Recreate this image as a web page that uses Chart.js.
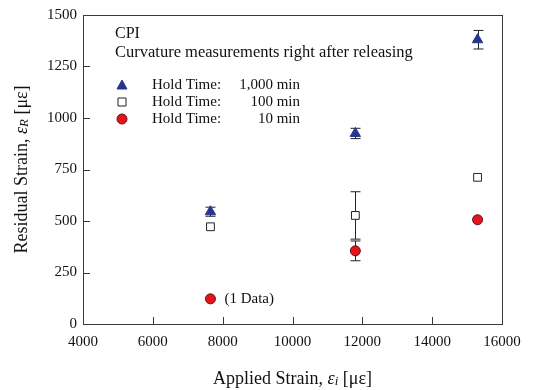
<!DOCTYPE html>
<html>
<head>
<meta charset="utf-8">
<script src="https://cdn.jsdelivr.net/npm/chart.js@4/dist/chart.umd.min.js"></script>
<style>
  html, body { margin: 0; padding: 0; background: #fff; }
  #wrap { width: 537px; height: 390px; }
</style>
</head>
<body>
<div id="wrap"><canvas id="strainChart" width="537" height="390"></canvas></div>
<script>
// --- Data ---
const xTicks = [4000, 6000, 8000, 10000, 12000, 14000, 16000];
const yTicks = [0, 250, 500, 750, 1000, 1250, 1500];

const hold1000X = [7650, 11800, 15300];
const hold1000Y = [545, 925, 1380];
const hold1000Err = [22, 25, 45];

const hold100X = [7650, 11800, 15300];
const hold100Y = [472, 527, 712];
const hold100Err = [0, 115, 0];

const hold10X = [7650, 11800, 15300];
const hold10Y = [122, 355, 506];
const hold10Err = [0, 48, 0];

const legendLabels = ['1,000 min', '100 min', '10 min'];

const SERIF = '"Liberation Serif", "DejaVu Serif", serif';
const FRAME = '#3a3a3a';

function toPoints(xs, ys, errs) {
    return xs.map((x, i) => ({ x: x, y: ys[i], err: errs[i] }));
}

// --- Frame, inward ticks, error bars, legend and axis titles ---
const figurePlugin = {
    id: 'figure',
    beforeDatasetsDraw(chart) {
        const ctx = chart.ctx;
        const xs = chart.scales.x, ys = chart.scales.y;
        ctx.save();
        // error bars under the markers
        ctx.strokeStyle = '#222';
        ctx.lineWidth = 1;
        chart.data.datasets.forEach(ds => {
            ds.data.forEach(p => {
                if (!p.err) return;
                const px = Math.round(xs.getPixelForValue(p.x)) + 0.5;
                const top = ys.getPixelForValue(p.y + p.err);
                const bot = ys.getPixelForValue(p.y - p.err);
                ctx.beginPath();
                ctx.moveTo(px, top); ctx.lineTo(px, bot);
                ctx.moveTo(px - 5, top); ctx.lineTo(px + 5, top);
                ctx.moveTo(px - 5, bot); ctx.lineTo(px + 5, bot);
                ctx.stroke();
            });
        });
        ctx.restore();
    },
    afterDraw(chart) {
        const ctx = chart.ctx;
        const a = chart.chartArea;
        const xs = chart.scales.x, ys = chart.scales.y;
        ctx.save();
        // frame
        ctx.strokeStyle = FRAME;
        ctx.lineWidth = 1;
        ctx.strokeRect(Math.round(a.left) + 0.5, Math.round(a.top) + 0.5,
            Math.round(a.right - a.left), Math.round(a.bottom - a.top));
        // inward ticks
        ctx.beginPath();
        xTicks.slice(1, -1).forEach(v => {
            const px = Math.round(xs.getPixelForValue(v)) + 0.5;
            ctx.moveTo(px, a.bottom); ctx.lineTo(px, a.bottom - 7);
        });
        yTicks.slice(1, -1).forEach(v => {
            const py = Math.round(ys.getPixelForValue(v)) + 0.5;
            ctx.moveTo(a.left, py); ctx.lineTo(a.left + 7, py);
        });
        ctx.stroke();

        // annotation text
        ctx.fillStyle = '#111';
        ctx.textBaseline = 'middle';
        ctx.textAlign = 'left';
        ctx.font = '16px ' + SERIF;
        ctx.fillText('CPI', 115, 34);
        ctx.font = '16.5px ' + SERIF;
        ctx.fillText('Curvature measurements right after releasing', 115, 53);

        // legend
        ctx.font = '15px ' + SERIF;
        const rows = [85, 102, 119];
        chart.data.datasets.forEach((ds, i) => {
            const cy = rows[i];
            drawMarker(ctx, ds, 122, cy);
            ctx.fillStyle = '#111';
            ctx.textAlign = 'left';
            ctx.fillText('Hold Time:', 152, cy);
            ctx.textAlign = 'right';
            ctx.fillText(legendLabels[i], 300, cy);
        });

        // note on single data point
        const nx = xs.getPixelForValue(hold10X[0]);
        const ny = ys.getPixelForValue(hold10Y[0]);
        ctx.textAlign = 'left';
        ctx.fillText('(1 Data)', nx + 14, ny);

        // x axis title
        drawRich(ctx, [
            { t: 'Applied Strain, ', f: '18px ' + SERIF },
            { t: 'ε', f: 'italic 18px ' + SERIF },
            { t: 'i', f: 'italic 13px ' + SERIF, dy: 3 },
            { t: ' [με]', f: '18px ' + SERIF }
        ], (a.left + a.right) / 2, 379);

        // y axis title (rotated)
        ctx.save();
        ctx.translate(22, (a.top + a.bottom) / 2);
        ctx.rotate(-Math.PI / 2);
        drawRich(ctx, [
            { t: 'Residual Strain, ', f: '18px ' + SERIF },
            { t: 'ε', f: 'italic 18px ' + SERIF },
            { t: 'R', f: 'italic 13px ' + SERIF, dy: 3 },
            { t: ' [με]', f: '18px ' + SERIF }
        ], 0, 0);
        ctx.restore();
        ctx.restore();
    }
};

function drawRich(ctx, parts, cx, cy) {
    let total = 0;
    parts.forEach(p => { ctx.font = p.f; total += ctx.measureText(p.t).width; });
    let x = cx - total / 2;
    ctx.textAlign = 'left';
    ctx.textBaseline = 'middle';
    ctx.fillStyle = '#111';
    parts.forEach(p => {
        ctx.font = p.f;
        ctx.fillText(p.t, x, cy + (p.dy || 0));
        x += ctx.measureText(p.t).width;
    });
}

function drawMarker(ctx, ds, x, y) {
    ctx.save();
    ctx.fillStyle = ds.backgroundColor;
    ctx.strokeStyle = ds.borderColor;
    ctx.lineWidth = ds.borderWidth;
    ctx.beginPath();
    if (ds.pointStyle === 'triangle') {
        ctx.moveTo(x, y - 5); ctx.lineTo(x + 5, y + 4); ctx.lineTo(x - 5, y + 4); ctx.closePath();
    } else if (ds.pointStyle === 'rect') {
        ctx.rect(x - 4, y - 4, 8, 8);
    } else {
        ctx.arc(x, y, 5, 0, Math.PI * 2);
    }
    ctx.fill();
    ctx.stroke();
    ctx.restore();
}

const ctx = document.getElementById('strainChart').getContext('2d');

const strainChart = new Chart(ctx, {
    type: 'scatter',
    data: {
        datasets: [
            {
                label: 'Hold Time: 1,000 min',
                data: toPoints(hold1000X, hold1000Y, hold1000Err),
                pointStyle: 'triangle',
                pointRadius: 6,
                backgroundColor: '#27358f',
                borderColor: '#27358f',
                borderWidth: 1
            },
            {
                label: 'Hold Time: 100 min',
                data: toPoints(hold100X, hold100Y, hold100Err),
                pointStyle: 'rect',
                pointRadius: 5.5,
                backgroundColor: '#ffffff',
                borderColor: '#222222',
                borderWidth: 1
            },
            {
                label: 'Hold Time: 10 min',
                data: toPoints(hold10X, hold10Y, hold10Err),
                pointStyle: 'circle',
                pointRadius: 5,
                backgroundColor: '#e3141b',
                borderColor: '#6a1010',
                borderWidth: 1
            }
        ]
    },
    options: {
        responsive: false,
        animation: false,
        layout: { padding: { top: 14, right: 35, left: 0, bottom: 0 } },
        scales: {
            x: {
                type: 'linear',
                min: 4000,
                max: 16000,
                afterBuildTicks: s => { s.ticks = xTicks.map(v => ({ value: v })); },
                afterFit: s => { s.height = 66; },
                grid: { display: false, drawTicks: false },
                border: { display: false },
                ticks: {
                    padding: 9,
                    color: '#111',
                    maxRotation: 0,
                    font: { family: SERIF, size: 15 },
                    callback: v => String(v)
                }
            },
            y: {
                type: 'linear',
                min: 0,
                max: 1500,
                afterBuildTicks: s => { s.ticks = yTicks.map(v => ({ value: v })); },
                afterFit: s => { s.width = 83; },
                grid: { display: false, drawTicks: false },
                border: { display: false },
                ticks: {
                    padding: 6,
                    color: '#111',
                    font: { family: SERIF, size: 15 },
                    callback: v => String(v)
                }
            }
        },
        plugins: {
            legend: { display: false },
            tooltip: { enabled: false }
        }
    },
    plugins: [figurePlugin]
});
</script>
</body>
</html>
